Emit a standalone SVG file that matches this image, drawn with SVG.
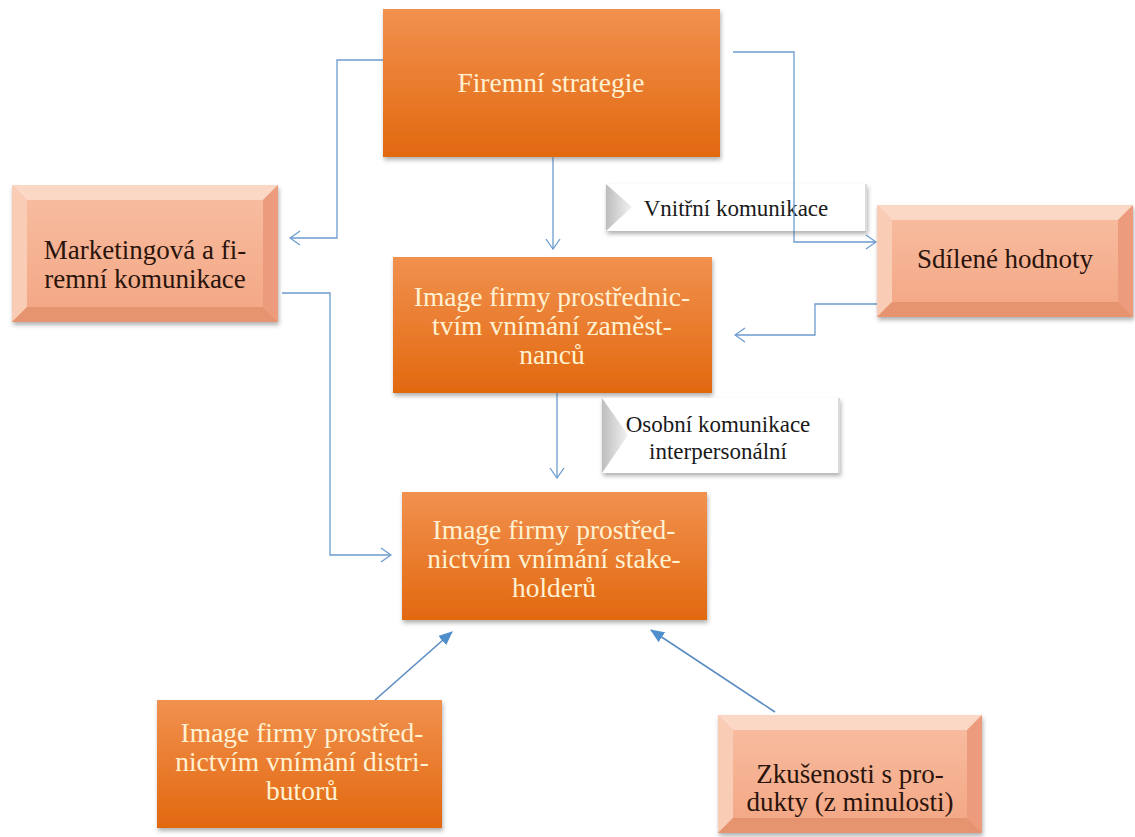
<svg xmlns="http://www.w3.org/2000/svg" width="1135" height="837" viewBox="0 0 1135 837">
  <defs>
    <linearGradient id="gOrange" x1="0" y1="0" x2="0" y2="1">
      <stop offset="0" stop-color="#F1914F"/>
      <stop offset="1" stop-color="#E2680F"/>
    </linearGradient>
    <linearGradient id="gSalmon" x1="0" y1="0" x2="0" y2="1">
      <stop offset="0" stop-color="#F8BEA2"/>
      <stop offset="1" stop-color="#F3A683"/>
    </linearGradient>
    <linearGradient id="gWedge" x1="0" y1="0" x2="1" y2="0">
      <stop offset="0" stop-color="#BDBDBD"/>
      <stop offset="1" stop-color="#F2F2F2"/>
    </linearGradient>
    <filter id="shadow" x="-10%" y="-10%" width="125%" height="130%">
      <feDropShadow dx="1" dy="3" stdDeviation="2" flood-color="#555" flood-opacity="0.45"/>
    </filter>
    <marker id="open" viewBox="0 0 12 16" refX="11" refY="8" markerWidth="12" markerHeight="16" markerUnits="userSpaceOnUse" orient="auto">
      <path d="M1,1 L11,8 L1,15" fill="none" stroke="#6C9BCF" stroke-width="1.3"/>
    </marker>
    <marker id="solid" viewBox="0 0 14 12" refX="13" refY="6" markerWidth="14" markerHeight="12" markerUnits="userSpaceOnUse" orient="auto">
      <path d="M0,0 L14,6 L0,12 Z" fill="#4F8FCC"/>
    </marker>
  </defs>
  <style>
    .orange { fill: url(#gOrange); filter: url(#shadow); }
    .salmon { fill: url(#gSalmon); filter: url(#shadow); }
    .bevT { fill: #FBD8C6; }
    .bevL { fill: #F9CCB6; }
    .bevR { fill: #EC9C7C; }
    .bevB { fill: #E6936F; }
    .label { fill: #FFFFFF; filter: url(#shadow); }
    text { font-family: "Liberation Serif", "DejaVu Serif", serif; text-anchor: middle; }
    .wtxt { font-size: 27.5px; fill: #FFF1D2; }
    .dtxt { font-size: 27px; fill: #2A140C; }
    .ltxt { font-size: 23px; fill: #1A1A1A; }
    .conn { fill: none; stroke: #6C9BCF; stroke-width: 1.3; }
    .conn2 { fill: none; stroke: #5A8CC2; stroke-width: 1.6; }
  </style>

  <rect width="1135" height="837" fill="#FFFFFF"/>

  <!-- connectors -->
  <g id="connectors">
    <polyline class="conn" points="383,60 337,60 337,238 290,238" marker-end="url(#open)"/>
    <line class="conn" x1="553" y1="157" x2="553" y2="249" marker-end="url(#open)"/>
    <polyline class="conn" points="733,52 794,52 794,242 876,242" marker-end="url(#open)"/>
    <polyline class="conn" points="877,304 815,304 815,335 735,335" marker-end="url(#open)"/>
    <line class="conn" x1="557" y1="393" x2="557" y2="478" marker-end="url(#open)"/>
    <polyline class="conn" points="282,293 330,293 330,555 391,555" marker-end="url(#open)"/>
    <line class="conn2" x1="375" y1="700" x2="452" y2="632" marker-end="url(#solid)"/>
    <line class="conn2" x1="775" y1="712" x2="651" y2="630" marker-end="url(#solid)"/>
  </g>

  <!-- Firemní strategie -->
  <g id="node-strategie">
    <rect class="orange" x="383" y="9" width="337" height="148"/>
    <text class="wtxt" x="551" y="92">Firemní strategie</text>
  </g>

  <!-- Marketingová a firemní komunikace -->
  <g id="node-marketing">
    <rect class="salmon" x="12" y="185" width="266" height="137"/>
    <polygon class="bevT" points="12,185 278,185 263,200 27,200"/>
    <polygon class="bevL" points="12,185 27,200 27,307 12,322"/>
    <polygon class="bevR" points="278,185 278,322 263,307 263,200"/>
    <polygon class="bevB" points="12,322 27,307 263,307 278,322"/>
    <text class="dtxt" x="145" y="259">Marketingová a fi-</text>
    <text class="dtxt" x="145" y="288">remní komunikace</text>
  </g>

  <!-- Vnitřní komunikace -->
  <g id="label-vnitrni">
    <rect class="label" x="606" y="184" width="261" height="47"/>
    <polygon fill="url(#gWedge)" points="606,184 632,207 606,231"/>
    <line x1="866" y1="184" x2="866" y2="231" stroke="#D0D0D0" stroke-width="1.5"/>
    <text class="ltxt" x="736" y="216">Vnitřní komunikace</text>
  </g>
  <!-- the vertical connector passes over the label -->
  <line class="conn" x1="794" y1="184" x2="794" y2="232"/>

  <!-- Sdílené hodnoty -->
  <g id="node-hodnoty">
    <rect class="salmon" x="877" y="205" width="256" height="112"/>
    <polygon class="bevT" points="877,205 1133,205 1118,220 892,220"/>
    <polygon class="bevL" points="877,205 892,220 892,302 877,317"/>
    <polygon class="bevR" points="1133,205 1133,317 1118,302 1118,220"/>
    <polygon class="bevB" points="877,317 892,302 1118,302 1133,317"/>
    <text class="dtxt" x="1005" y="268">Sdílené hodnoty</text>
  </g>

  <!-- Image firmy: zaměstnanci -->
  <g id="node-zamestnanci">
    <rect class="orange" x="393" y="257" width="319" height="136"/>
    <text class="wtxt" x="552" y="306">Image firmy prostřednic-</text>
    <text class="wtxt" x="552" y="335">tvím vnímání zaměst-</text>
    <text class="wtxt" x="552" y="364">nanců</text>
  </g>

  <!-- Osobní komunikace interpersonální -->
  <g id="label-osobni">
    <rect class="label" x="602" y="398" width="238" height="75"/>
    <polygon fill="url(#gWedge)" points="602,398 628,435 602,473"/>
    <line x1="839" y1="398" x2="839" y2="473" stroke="#D0D0D0" stroke-width="1.5"/>
    <text class="ltxt" x="718" y="432">Osobní komunikace</text>
    <text class="ltxt" x="718" y="459">interpersonální</text>
  </g>

  <!-- Image firmy: stakeholdeři -->
  <g id="node-stakeholderi">
    <rect class="orange" x="402" y="492" width="305" height="128"/>
    <text class="wtxt" x="554" y="539">Image firmy prostřed-</text>
    <text class="wtxt" x="554" y="568">nictvím vnímání stake-</text>
    <text class="wtxt" x="554" y="597">holderů</text>
  </g>

  <!-- Image firmy: distributoři -->
  <g id="node-distributori">
    <rect class="orange" x="157" y="700" width="285" height="128"/>
    <text class="wtxt" x="302" y="742">Image firmy prostřed-</text>
    <text class="wtxt" x="302" y="771">nictvím vnímání distri-</text>
    <text class="wtxt" x="302" y="800">butorů</text>
  </g>

  <!-- Zkušenosti s produkty -->
  <g id="node-zkusenosti">
    <rect class="salmon" x="718" y="715" width="264" height="118"/>
    <polygon class="bevT" points="718,715 982,715 967,730 733,730"/>
    <polygon class="bevL" points="718,715 733,730 733,818 718,833"/>
    <polygon class="bevR" points="982,715 982,833 967,818 967,730"/>
    <polygon class="bevB" points="718,833 733,818 967,818 982,833"/>
    <text class="dtxt" x="850" y="783">Zkušenosti s pro-</text>
    <text class="dtxt" x="850" y="811">dukty (z minulosti)</text>
  </g>
</svg>
